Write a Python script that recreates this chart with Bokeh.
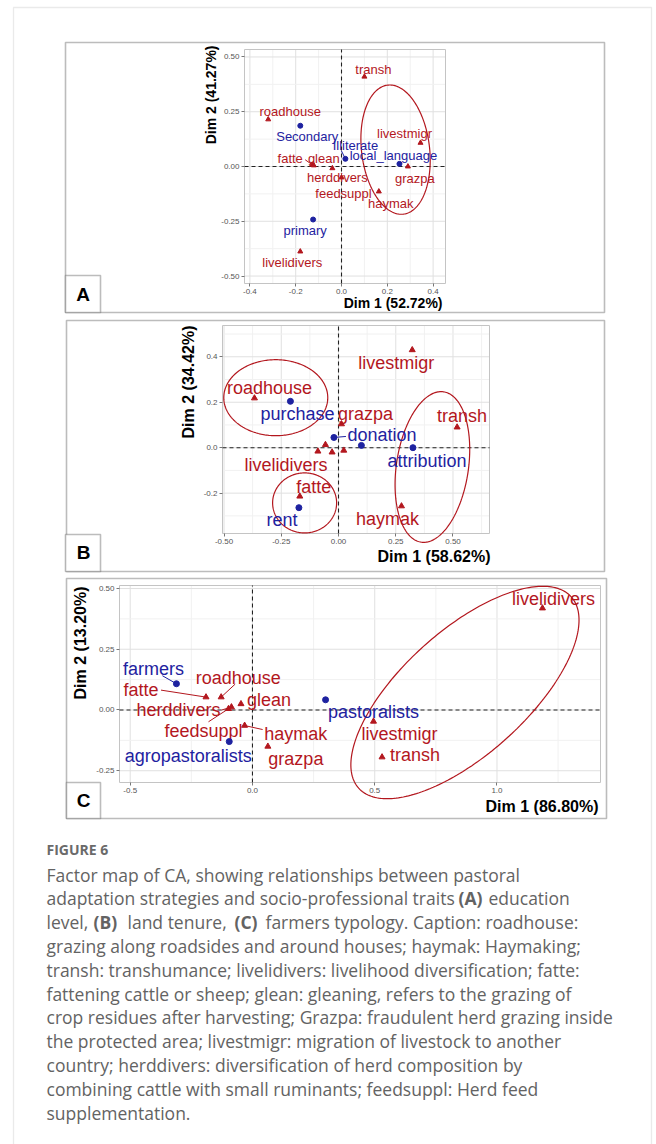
import numpy as np
from bokeh.plotting import figure
from bokeh.models import (Range1d, FixedTicker, PrintfTickFormatter, Label,
                          BoxAnnotation, LinearAxis, ColumnDataSource)
from bokeh.core.properties import value
from bokeh.embed import file_html
from bokeh.resources import INLINE

RED = "#b3171e"
BLUE = "#1e22a0"
FONT = "Liberation Sans"
W, H = 656, 1144

# ---------------- Panel A: education level ----------------
a_strat = ["transh", "roadhouse", "livestmigr", "grazpa", "fatte", "glean",
           "herddivers", "feedsuppl", "haymak", "livelidivers"]
a_strat_dim1 = [0.100, -0.320, 0.345, 0.290, -0.128, -0.121, -0.040, 0.000, 0.163, -0.180]
a_strat_dim2 = [0.410, 0.215, 0.108, 0.000, 0.008, 0.005, -0.008, -0.050, -0.114, -0.388]
a_trait = ["Secondary", "Illiterate", "local_language", "primary"]
a_trait_dim1 = [-0.180, 0.017, 0.253, -0.124]
a_trait_dim2 = [0.186, 0.035, 0.012, -0.242]
a_xticks = [-0.4, -0.2, 0.0, 0.2, 0.4]
a_yticks = [-0.50, -0.25, 0.00, 0.25, 0.50]

# ---------------- Panel B: land tenure ----------------
b_strat = ["roadhouse", "livestmigr", "grazpa", "transh", "livelidivers", "glean",
           "herddivers", "feedsuppl", "fatte", "haymak"]
b_strat_dim1 = [-0.367, 0.322, 0.013, 0.518, -0.090, -0.057, -0.028, 0.023, -0.169, 0.275]
b_strat_dim2 = [0.218, 0.430, 0.104, 0.090, -0.016, 0.013, -0.020, -0.012, -0.214, -0.257]
b_trait = ["purchase", "donation", "", "attribution", "rent"]
b_trait_dim1 = [-0.210, -0.020, 0.100, 0.325, -0.173]
b_trait_dim2 = [0.204, 0.045, 0.010, 0.000, -0.264]
b_xticks = [-0.50, -0.25, 0.00, 0.25, 0.50]
b_yticks = [-0.2, 0.0, 0.2, 0.4]

# ---------------- Panel C: farmers typology ----------------
c_strat = ["livelidivers", "fatte", "roadhouse", "glean", "herddivers", "feedsuppl",
           "haymak", "grazpa", "livestmigr", "transh"]
c_strat_dim1 = [1.186, -0.190, -0.128, -0.047, -0.086, -0.098, -0.032, 0.063, 0.495, 0.530]
c_strat_dim2 = [0.419, 0.053, 0.053, 0.025, 0.012, 0.005, -0.064, -0.150, -0.047, -0.194]
c_trait = ["farmers", "pastoralists", "agropastoralists"]
c_trait_dim1 = [-0.311, 0.299, -0.095]
c_trait_dim2 = [0.108, 0.042, -0.130]
c_xticks = [-0.5, 0.0, 0.5, 1.0]
c_yticks = [-0.25, 0.00, 0.25, 0.50]

# ---------------- page layout (pixels on the page) ----------------
PANELS = [
    dict(tag="A", frame=(244, 445, 49, 283),
         xlim=(-0.4236, 0.4541), ylim=(-0.534, 0.534),
         box=(65, 604, 42, 312), tag_box=(65, 100, 275, 312), tag_xy=(82.5, 294),
         xtitle="Dim 1 (52.72%)", ytitle="Dim 2 (41.27%)", title_px=14,
         xtitle_xy=(442, 302), ytitle_xy=(210, 45),
         xfmt="%.1f", yfmt="%.2f", label_px=13, marker=5,
         strat=(a_strat, a_strat_dim1, a_strat_dim2),
         trait=(a_trait, a_trait_dim1, a_trait_dim2),
         xticks=a_xticks, yticks=a_yticks,
         offsets={"transh": (9, -7), "roadhouse": (22, -8), "livestmigr": (-16, -9),
                  "grazpa": (7, 12), "fatte": (-22, -6), "glean": (10, -7),
                  "herddivers": (5, 9), "feedsuppl": (2, 16), "haymak": (12, 12),
                  "livelidivers": (-8, 11), "Secondary": (7, 11), "Illiterate": (10, -13),
                  "local_language": (-6, -8), "primary": (-8, 11)},
         connectors={"Illiterate": (-4, -8), "fatte": (-7, -5)},
         ellipses=[(0.236, 0.077, 34, 65, 7)]),
    dict(tag="B", frame=(222, 489, 325, 533),
         xlim=(-0.5066, 0.6594), ylim=(-0.3776, 0.5376),
         box=(66, 604, 320, 571), tag_box=(65, 100, 534, 571), tag_xy=(83, 552),
         xtitle="Dim 1 (58.62%)", ytitle="Dim 2 (34.42%)", title_px=16,
         xtitle_xy=(490, 556), ytitle_xy=(188, 325),
         xfmt="%.2f", yfmt="%.1f", label_px=18, marker=6,
         strat=(b_strat, b_strat_dim1, b_strat_dim2),
         trait=(b_trait, b_trait_dim1, b_trait_dim2),
         xticks=b_xticks, yticks=b_yticks,
         offsets={"roadhouse": (15, -10), "purchase": (7, 13), "livestmigr": (-16, 13),
                  "grazpa": (24, -10), "donation": (48, -2), "attribution": (14, 13),
                  "transh": (5, -11), "livelidivers": (-32, 14), "fatte": (14, -9),
                  "rent": (-17, 12), "haymak": (-14, 13)},
         connectors={"donation": (12, -1)},
         ellipses=[(-0.274, 0.220, 52, 38, 0), (-0.148, -0.243, 32, 30, 0),
                   (0.410, -0.085, 36, 76, -8.5)]),
    dict(tag="C", frame=(119, 600, 585, 782),
         xlim=(-0.5438, 1.4234), ylim=(-0.2984, 0.5123),
         box=(66, 606, 578, 818), tag_box=(66, 100, 782, 818), tag_xy=(83, 800),
         xtitle="Dim 1 (86.80%)", ytitle="Dim 2 (13.20%)", title_px=16,
         xtitle_xy=(598, 806), ytitle_xy=(80, 586),
         xfmt="%.1f", yfmt="%.2f", label_px=18, marker=6,
         strat=(c_strat, c_strat_dim1, c_strat_dim2),
         trait=(c_trait, c_trait_dim1, c_trait_dim2),
         xticks=c_xticks, yticks=c_yticks,
         offsets={"farmers": (-23, -15), "fatte": (-65, -7), "roadhouse": (17, -19),
                  "glean": (28, -4), "herddivers": (-53, 3), "feedsuppl": (-25, 22),
                  "haymak": (51, 8), "agropastoralists": (-41, 14), "grazpa": (28, 13),
                  "pastoralists": (48, 12), "livestmigr": (26, 13), "transh": (33, -2),
                  "livelidivers": (11, -9)},
         connectors={"farmers": (-14, -8), "fatte": (-45, -7), "roadhouse": (14, -13),
                     "herddivers": (-10, 3), "feedsuppl": (-20, 13), "haymak": (18, 4)},
         ellipses=[(0.869, 0.072, 143, 62, 42)]),
]

# One page-sized canvas: page decorations use pixel coordinates, each factor
# map gets its own pair of data ranges mapped onto its plotting area.
p = figure(width=W, height=H, x_range=Range1d(0, W), y_range=Range1d(H, 0),
           x_axis_type=None, y_axis_type=None, min_border=0,
           output_backend="svg", toolbar_location=None)
p.outline_line_color = None
p.background_fill_color = "white"
p.border_fill_color = "white"

extra_x, extra_y = {}, {}
for cfg in PANELS:
    fl, fr, ft, fb = cfg["frame"]
    x0, x1 = cfg["xlim"]
    y0, y1 = cfg["ylim"]
    ppu_x = (fr - fl) / (x1 - x0)
    ppu_y = (fb - ft) / (y1 - y0)
    cfg["ppu"] = (ppu_x, ppu_y)
    extra_x[cfg["tag"] + "x"] = Range1d(x0 - fl / ppu_x, x1 + (W - fr) / ppu_x)
    extra_y[cfg["tag"] + "y"] = Range1d(y0 - (H - fb) / ppu_y, y1 + ft / ppu_y)
p.extra_x_ranges = extra_x
p.extra_y_ranges = extra_y


def minor_between(ticks, lo, hi):
    step = ticks[1] - ticks[0]
    mids = [t + step / 2 for t in [ticks[0] - step] + list(ticks)]
    return [m for m in mids if lo < m < hi]


def draw_panel(cfg):
    kw = dict(x_range_name=cfg["tag"] + "x", y_range_name=cfg["tag"] + "y")
    x0, x1 = cfg["xlim"]
    y0, y1 = cfg["ylim"]
    ppu_x, ppu_y = cfg["ppu"]
    xt, yt = cfg["xticks"], cfg["yticks"]

    # plotting area background and grid
    p.quad(left=[x0], right=[x1], bottom=[y0], top=[y1], fill_color="white",
           line_color=None, **kw)
    for vals, col in ((minor_between(xt, x0, x1), "#f1f1f1"), (xt, "#e0e0e0")):
        p.segment(x0=vals, y0=[y0] * len(vals), x1=vals, y1=[y1] * len(vals),
                  line_color=col, line_width=1, **kw)
    for vals, col in ((minor_between(yt, y0, y1), "#f1f1f1"), (yt, "#e0e0e0")):
        p.segment(x0=[x0] * len(vals), y0=vals, x1=[x1] * len(vals), y1=vals,
                  line_color=col, line_width=1, **kw)
    p.quad(left=[x0], right=[x1], bottom=[y0], top=[y1], fill_color=None,
           line_color="#c4c4c4", line_width=1, **kw)

    # axes along the bottom and left edges of the plotting area
    xa = LinearAxis(fixed_location=y0, ticker=FixedTicker(ticks=xt),
                    formatter=PrintfTickFormatter(format=cfg["xfmt"]), **kw)
    ya = LinearAxis(fixed_location=x0, ticker=FixedTicker(ticks=yt),
                    formatter=PrintfTickFormatter(format=cfg["yfmt"]), **kw)
    for ax in (xa, ya):
        ax.axis_line_color = None
        ax.major_tick_line_color = "#777777"
        ax.major_tick_in = 0
        ax.major_tick_out = 3
        ax.minor_tick_line_color = None
        ax.major_label_text_font = FONT
        ax.major_label_text_font_size = "8px"
        ax.major_label_text_color = "#555555"
        ax.major_label_standoff = 2
    p.add_layout(xa, "below")
    p.add_layout(ya, "left")

    # zero reference lines
    p.segment(x0=[0, x0], y0=[y0, 0], x1=[0, x1], y1=[y1, 0], line_color="#222222",
              line_dash="4 3", line_width=1.1, **kw)

    # confidence ellipses around strategy groups
    t = np.linspace(0, 2 * np.pi, 241)
    for cx, cy, rx, ry, ang in cfg["ellipses"]:
        th = np.deg2rad(ang)
        ex = rx * np.cos(t) * np.cos(th) - ry * np.sin(t) * np.sin(th)
        ey = rx * np.cos(t) * np.sin(th) + ry * np.sin(t) * np.cos(th)
        p.line(x=cx + ex / ppu_x, y=cy + ey / ppu_y, line_color=RED, line_width=1.2, **kw)

    offs = cfg["offsets"]
    conns = cfg["connectors"]
    for (names, d1, d2), color, marker in ((cfg["strat"], RED, "triangle"),
                                           (cfg["trait"], BLUE, "circle")):
        segs = [(d1[i], d2[i], d1[i] + conns[n][0] / ppu_x, d2[i] - conns[n][1] / ppu_y)
                for i, n in enumerate(names) if n in conns]
        if segs:
            s = np.array(segs)
            p.segment(x0=s[:, 0], y0=s[:, 1], x1=s[:, 2], y1=s[:, 3],
                      line_color=color, line_width=1, **kw)
        p.scatter(x=d1, y=d2, marker=marker, size=cfg["marker"], color=color, **kw)
        lab = [(d1[i], d2[i], n, offs[n][0], offs[n][1])
               for i, n in enumerate(names) if n in offs]
        src = ColumnDataSource(dict(x=[r[0] for r in lab], y=[r[1] for r in lab],
                                    text=[r[2] for r in lab], dx=[r[3] for r in lab],
                                    dy=[r[4] for r in lab]))
        p.text(x="x", y="y", text="text", x_offset="dx", y_offset="dy", source=src,
               text_align="center", text_baseline="middle", text_color=color,
               text_font=value(FONT), text_font_size=f"{cfg['label_px']}px", **kw)

    # axis titles
    p.add_layout(Label(x=cfg["xtitle_xy"][0], y=cfg["xtitle_xy"][1], text=cfg["xtitle"],
                       text_align="right", text_baseline="middle", text_font=FONT,
                       text_font_style="bold", text_font_size=f"{cfg['title_px']}px",
                       text_color="black"))
    p.add_layout(Label(x=cfg["ytitle_xy"][0], y=cfg["ytitle_xy"][1], text=cfg["ytitle"],
                       angle=np.pi / 2, text_align="right", text_baseline="middle",
                       text_font=FONT, text_font_style="bold",
                       text_font_size=f"{cfg['title_px']}px", text_color="black"))

    # panel box and panel tag
    bl, br, bt, bb = cfg["box"]
    p.add_layout(BoxAnnotation(left=bl, right=br, top=bt, bottom=bb, fill_alpha=0,
                               line_color="#222222", line_width=1.6))
    tl, tr, tt, tb = cfg["tag_box"]
    p.add_layout(BoxAnnotation(left=tl, right=tr, top=tt, bottom=tb, fill_color="white",
                               fill_alpha=1, line_color="#222222", line_width=1.6))
    p.add_layout(Label(x=cfg["tag_xy"][0], y=cfg["tag_xy"][1], text=cfg["tag"],
                       text_align="center", text_baseline="middle", text_font=FONT,
                       text_font_style="bold", text_font_size="19px", text_color="black"))


for cfg in PANELS:
    draw_panel(cfg)

# light outer frame of the figure page
p.add_layout(BoxAnnotation(left=13, right=651, top=7, bottom=H + 10, fill_alpha=0,
                           line_color="#b8b8b8", line_width=1.3))

# ---------------- caption ----------------
CAP_FONT = "Open Sans"
CAP_COLOR = "#636363"
p.add_layout(Label(x=46, y=849, text="FIGURE 6", text_font=CAP_FONT,
                   text_font_style="bold", text_font_size="14px", text_color="#6a6a6a",
                   text_baseline="middle"))

caption_lines = [
    [("Factor map of CA, showing relationships between pastoral", 46, False)],
    [("adaptation strategies and socio-professional traits", 46, False),
     ("(A)", 458, True), ("education", 488, False)],
    [("level,", 46, False), ("(B)", 93, True), ("land tenure,", 127, False),
     ("(C)", 234, True), ("farmers typology. Caption: roadhouse:", 265, False)],
    [("grazing along roadsides and around houses; haymak: Haymaking;", 46, False)],
    [("transh: transhumance; livelidivers: livelihood diversification; fatte:", 46, False)],
    [("fattening cattle or sheep; glean: gleaning, refers to the grazing of", 46, False)],
    [("crop residues after harvesting; Grazpa: fraudulent herd grazing inside", 46, False)],
    [("the protected area; livestmigr: migration of livestock to another", 46, False)],
    [("country; herddivers: diversification of herd composition by", 46, False)],
    [("combining cattle with small ruminants; feedsuppl: Herd feed", 46, False)],
    [("supplementation.", 46, False)],
]
for i, segs in enumerate(caption_lines):
    yline = 874 + i * 23.8
    for txt, xpos, bold in segs:
        p.add_layout(Label(x=xpos, y=yline, text=txt, text_font=CAP_FONT,
                           text_font_style="bold" if bold else "normal",
                           text_font_size="17.5px", text_color=CAP_COLOR,
                           text_baseline="middle"))

open("out.html", "w").write(file_html(p, INLINE))
